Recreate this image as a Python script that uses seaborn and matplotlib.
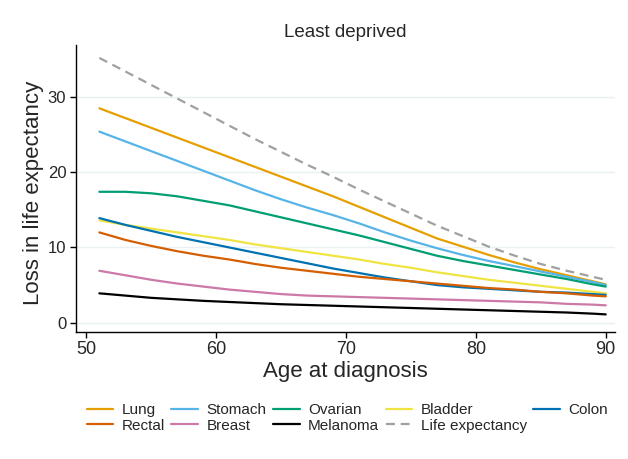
import matplotlib
matplotlib.use("Agg")
import matplotlib.pyplot as plt
import seaborn as sns
import pandas as pd

ages = [51, 53, 55, 57, 59, 61, 63, 65, 67, 69, 71, 73, 75, 77, 79, 81, 83, 85, 87, 89, 90]

lung = [28.5, 27.2, 25.9, 24.6, 23.3, 22.0, 20.7, 19.4, 18.1, 16.8, 15.4, 14.0, 12.6, 11.2, 10.1, 9.0, 8.0, 7.1, 6.3, 5.5, 5.1]
stomach = [25.4, 24.1, 22.8, 21.5, 20.2, 18.9, 17.6, 16.4, 15.3, 14.3, 13.2, 12.0, 10.9, 9.9, 9.0, 8.2, 7.5, 6.8, 6.1, 5.4, 5.0]
ovarian = [17.4, 17.4, 17.2, 16.8, 16.2, 15.6, 14.8, 14.0, 13.2, 12.4, 11.6, 10.7, 9.8, 8.9, 8.2, 7.6, 7.0, 6.4, 5.8, 5.1, 4.8]
bladder = [13.6, 13.0, 12.5, 12.0, 11.5, 11.0, 10.4, 9.9, 9.4, 8.9, 8.4, 7.8, 7.3, 6.7, 6.2, 5.7, 5.3, 4.9, 4.5, 4.1, 3.9]
colon = [13.9, 13.0, 12.2, 11.4, 10.7, 10.0, 9.3, 8.6, 7.9, 7.2, 6.6, 6.0, 5.5, 5.0, 4.7, 4.5, 4.3, 4.1, 4.0, 3.8, 3.7]
rectal = [12.0, 11.0, 10.2, 9.5, 8.9, 8.4, 7.8, 7.3, 6.9, 6.5, 6.1, 5.8, 5.5, 5.2, 4.9, 4.6, 4.4, 4.1, 3.9, 3.6, 3.5]
breast = [6.9, 6.3, 5.7, 5.2, 4.8, 4.4, 4.1, 3.8, 3.6, 3.5, 3.4, 3.3, 3.2, 3.1, 3.0, 2.9, 2.8, 2.7, 2.5, 2.4, 2.3]
melanoma = [3.9, 3.6, 3.3, 3.1, 2.9, 2.75, 2.6, 2.45, 2.35, 2.25, 2.15, 2.05, 1.95, 1.85, 1.75, 1.65, 1.55, 1.45, 1.35, 1.2, 1.1]
life_expectancy = [35.2, 33.4, 31.6, 29.8, 28.0, 26.2, 24.4, 22.7, 21.0, 19.4, 17.7, 16.1, 14.5, 12.9, 11.5, 10.1, 8.9, 7.8, 6.9, 6.1, 5.7]

series_names = ["Lung", "Stomach", "Ovarian", "Bladder", "Colon",
                "Rectal", "Breast", "Melanoma", "Life expectancy"]
series_values = [lung, stomach, ovarian, bladder, colon,
                 rectal, breast, melanoma, life_expectancy]
colors = ["#E69F00", "#56B4E9", "#009E73", "#F0E442", "#0072B2",
          "#D55E00", "#CC79A7", "#000000", "#A0A0A0"]

title = "Least deprived"
xlabel = "Age at diagnosis"
ylabel = "Loss in life expectancy"
xticks = [50, 60, 70, 80, 90]
yticks = [0, 10, 20, 30]

sns.set_style("white")
plt.rcParams["font.family"] = ["Liberation Sans", "DejaVu Sans"]

fig = plt.figure(figsize=(6.28, 4.59), dpi=100)
ax = fig.add_axes([0.121, 0.2767, 0.858, 0.625])

rows = []
for name, vals in zip(series_names, series_values):
    for a, v in zip(ages, vals):
        rows.append({"Age": a, "Loss": v, "Series": name})
df = pd.DataFrame(rows)

handles = {}
for name, col in zip(series_names, colors):
    sub = df[df["Series"] == name]
    ls = (0, (4, 2.6)) if name == "Life expectancy" else "-"
    sns.lineplot(data=sub, x="Age", y="Loss", color=col, lw=1.6,
                 linestyle=ls, ax=ax, label=name, legend=False)
    handles[name] = ax.lines[-1]

ax.set_xlim(49.2, 90.7)
ax.set_ylim(-1.24, 36.9)
ax.set_xticks(xticks)
ax.set_yticks(yticks)
ax.yaxis.grid(True, color="#EAF1F2", lw=1.0)
ax.xaxis.grid(False)
ax.set_axisbelow(True)
for s in ["top", "right"]:
    ax.spines[s].set_visible(False)
for s in ["left", "bottom"]:
    ax.spines[s].set_color("black")
    ax.spines[s].set_linewidth(1.0)
ax.tick_params(axis="both", which="major", direction="out", length=4.5,
               width=1, color="black", left=True, bottom=True)
ax.tick_params(axis="x", labelsize=13, pad=2)
ax.tick_params(axis="y", labelsize=12, pad=2.5)
ax.set_xlabel(xlabel, fontsize=16, labelpad=2)
ax.set_ylabel(ylabel, fontsize=16, labelpad=1)
ax.yaxis.set_label_coords(-0.06, 0.485)
ax.set_title(title, fontsize=13.5, pad=6)

order = ["Lung", "Rectal", "Stomach", "Breast", "Ovarian", "Melanoma",
         "Bladder", "Life expectancy", "Colon"]
fig.legend([handles[n] for n in order], order, loc="upper left",
           bbox_to_anchor=(0.138, 0.122), ncol=5, frameon=False,
           fontsize=11, handlelength=1.75, handletextpad=0.55,
           columnspacing=0.42, labelspacing=0.12, borderpad=0,
           borderaxespad=0)

fig.savefig("out.png", dpi=100, facecolor="white")
